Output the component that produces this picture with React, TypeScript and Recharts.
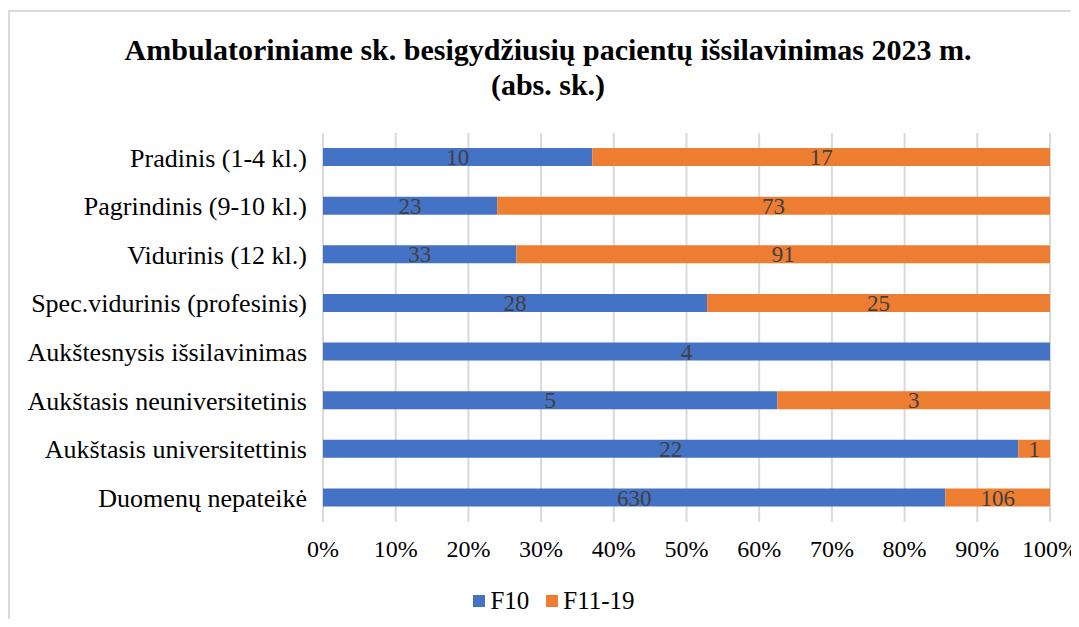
import { BarChart, Bar, XAxis, YAxis, CartesianGrid, LabelList, Legend } from "recharts";

const categories = [
  "Pradinis (1-4 kl.)",
  "Pagrindinis (9-10 kl.)",
  "Vidurinis (12 kl.)",
  "Spec.vidurinis (profesinis)",
  "Aukštesnysis išsilavinimas",
  "Aukštasis neuniversitetinis",
  "Aukštasis universitettinis",
  "Duomenų nepateikė",
];
const f10 = [10, 23, 33, 28, 4, 5, 22, 630];
const f1119 = [17, 73, 91, 25, 0, 3, 1, 106];
const seriesNames = ["F10", "F11-19"];
const xTicks = [0, 0.1, 0.2, 0.3, 0.4, 0.5, 0.6, 0.7, 0.8, 0.9, 1];

const BLUE = "#4472C4";
const ORANGE = "#ED7D31";
const FONT = "'Liberation Serif', 'Times New Roman', serif";

const data = categories.map((name, i) => ({ name, f10: f10[i], f1119: f1119[i] }));

const hideZero = (v: any) => (v ? v : "");

const LegendBox = () => (
  <div style={{ display: "flex", justifyContent: "center", alignItems: "center", fontFamily: FONT, fontSize: 25, color: "#000" }}>
    {seriesNames.map((s, i) => (
      <div key={s} style={{ display: "flex", alignItems: "center", marginRight: i === 0 ? 17 : 0 }}>
        <span style={{ width: 12, height: 12, background: i === 0 ? BLUE : ORANGE, marginRight: 5 }} />
        <span>{s}</span>
      </div>
    ))}
  </div>
);

export default function App() {
  return (
    <div style={{ position: "relative", width: 1071, height: 611, fontFamily: FONT }}>
      <div
        style={{
          position: "absolute",
          left: 0,
          top: 2,
          right: -10,
          bottom: -10,
          borderTop: "2px solid #d9d9d9",
          borderLeft: "2px solid #d9d9d9",
        }}
      />
      <div
        style={{
          position: "absolute",
          left: 0,
          width: 1080,
          top: 24,
          textAlign: "center",
          fontFamily: FONT,
          fontWeight: "bold",
          fontSize: 30,
          lineHeight: "35px",
          color: "#000",
        }}
      >
        Ambulatoriniame sk. besigydžiusių pacientų išsilavinimas 2023 m.
        <br />
        (abs. sk.)
      </div>
      <div style={{ position: "absolute", left: 0, top: 0, fontFamily: FONT }}>
        <BarChart
          width={1071}
          height={611}
          data={data}
          layout="vertical"
          stackOffset="expand"
          barSize={18}
          margin={{ top: 125, right: 29, bottom: 3, left: 0 }}
          style={{ fontFamily: FONT }}
        >
          <CartesianGrid horizontal={false} stroke="#d9d9d9" strokeWidth={2} />
          <XAxis
            type="number"
            domain={[0, 1]}
            ticks={xTicks}
            tickFormatter={(v: number) => `${Math.round(v * 100)}%`}
            axisLine={false}
            tickLine={false}
            tickSize={0}
            tickMargin={18}
            height={65}
            tick={{ fontFamily: FONT, fontSize: 24, fill: "#000" }}
            interval={0}
          />
          <YAxis
            type="category"
            dataKey="name"
            width={315}
            axisLine={false}
            tickLine={false}
            tickSize={0}
            tickMargin={16}
            interval={0}
            tick={{ fontFamily: FONT, fontSize: 26, fill: "#000" }}
          />
          <Legend verticalAlign="bottom" content={() => <LegendBox />} wrapperStyle={{ left: 25, height: 29 }} />
          <Bar dataKey="f10" name={seriesNames[0]} stackId="a" fill={BLUE} isAnimationActive={false}>
            <LabelList dataKey="f10" position="center" formatter={hideZero} fill="#404040" fontSize={23} fontFamily={FONT} />
          </Bar>
          <Bar dataKey="f1119" name={seriesNames[1]} stackId="a" fill={ORANGE} isAnimationActive={false}>
            <LabelList dataKey="f1119" position="center" formatter={hideZero} fill="#404040" fontSize={23} fontFamily={FONT} />
          </Bar>
        </BarChart>
      </div>
    </div>
  );
}
